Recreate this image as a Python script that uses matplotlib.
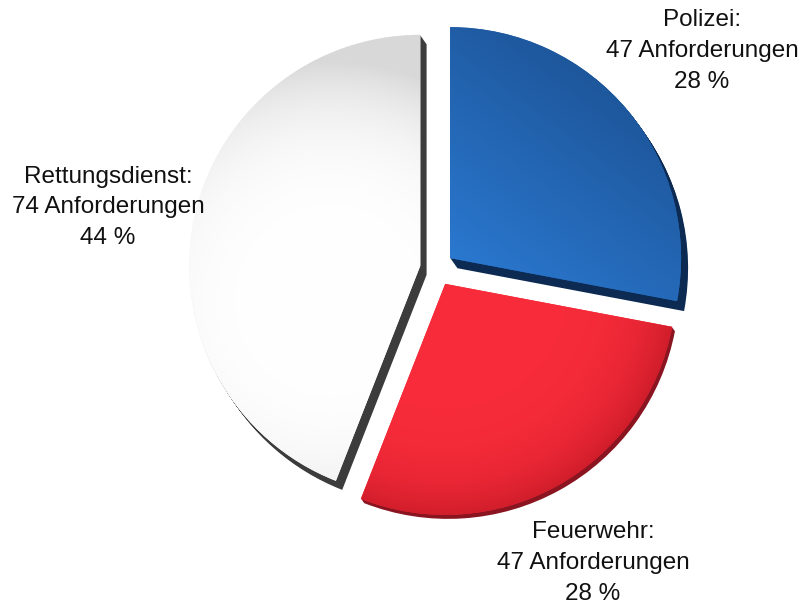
import numpy as np
import matplotlib
matplotlib.use("Agg")
import matplotlib.pyplot as plt

categories = ["Polizei", "Feuerwehr", "Rettungsdienst"]
values = [47, 47, 74]
percent_labels = ["28 %", "28 %", "44 %"]

W, H = 810, 603
fig = plt.figure(figsize=(W / 100, H / 100), dpi=100)
ax = fig.add_axes([0, 0, 1, 1])
ax.set_xlim(0, W)
ax.set_ylim(0, H)
ax.axis("off")

cx, cy = 437, H - 269
radius = 231
explode = [17, 17, 17]

side_colors = ["#0c2a52", "#8a1420", "#3c3c3c"]
top_colors = ["#2466b4", "#f02a38", "#f2f2f2"]
depths = [10, 4, 9]

# extrusion (side faces)
for k in range(1, 11):
    cols = [c if k <= d else "none" for c, d in zip(side_colors, depths)]
    ax.pie(values, center=(cx + 0.7 * k, cy - 1.0 * k), radius=radius,
           startangle=90, counterclock=False, explode=explode,
           colors=cols, wedgeprops=dict(linewidth=0))

wedges, _ = ax.pie(values, center=(cx, cy), radius=radius, startangle=90,
                   counterclock=False, explode=explode, colors=top_colors,
                   wedgeprops=dict(linewidth=0))

yy, xx = np.mgrid[0:H, 0:W]
def grad_img(c1, c2, t):
    c1 = np.array(matplotlib.colors.to_rgb(c1))
    c2 = np.array(matplotlib.colors.to_rgb(c2))
    t = np.clip(t, 0, 1)[..., None]
    return c1 * (1 - t) + c2 * t

# blue: lighter lower-left, darker upper-right
tb = ((xx - 450) * 0.6 + (255 - yy) * 0.8) / 240
img_b = grad_img("#2a78cf", "#1d5599", tb)
# red: bright, darker toward rim
tr = np.hypot(xx - 443, yy - 283) / 240
img_r = grad_img("#f82c3a", "#c81a28", tr ** 6)
# white: white in middle, light gray toward rim
tw = np.hypot(xx - 330, yy - 300) / 240
img_w = grad_img("#ffffff", "#d8d8d8", tw ** 4)

for wdg, img in zip(wedges, [img_b, img_r, img_w]):
    im = ax.imshow(img, extent=(0, W, 0, H), origin="upper",
                   zorder=wdg.get_zorder() + 0.1, interpolation="bilinear")
    im.set_clip_path(wdg)
ax.set_xlim(0, W)
ax.set_ylim(0, H)
ax.set_aspect("auto")

label_pos = [(702, H - 51), (593, H - 563), (108, H - 207)]
for cat, val, pct, (lx, ly) in zip(categories, values, percent_labels, label_pos):
    ax.text(lx, ly, f"{cat}:\n{val} Anforderungen\n{pct}", ha="center", va="center",
            fontsize=17.5, family="Liberation Sans", color="#111111", linespacing=1.5,
            zorder=10)

fig.savefig("out.png", dpi=100)
